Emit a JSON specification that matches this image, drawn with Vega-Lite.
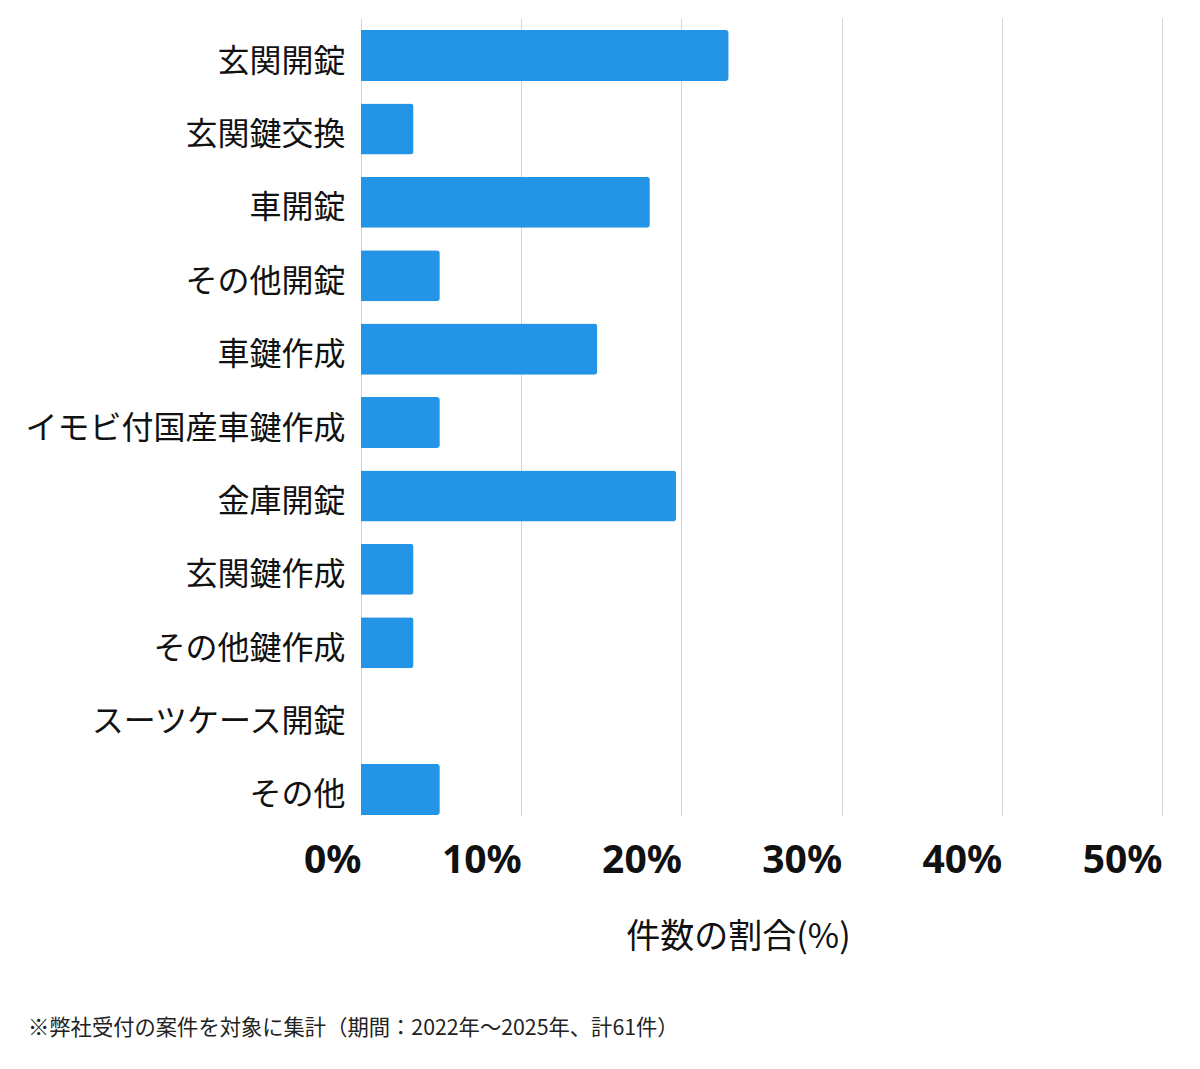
{
  "$schema": "https://vega.github.io/schema/vega-lite/v6.json",
  "autosize": "none",
  "width": 801,
  "height": 797,
  "padding": {"left": 361, "top": 18, "right": 38, "bottom": 254},
  "background": "white",
  "config": {"font": "Noto Sans CJK JP", "view": {"stroke": null}},
  "data": {"values": [
    {"category": "玄関開錠", "percent": 22.95},
    {"category": "玄関鍵交換", "percent": 3.28},
    {"category": "車開錠", "percent": 18.03},
    {"category": "その他開錠", "percent": 4.92},
    {"category": "車鍵作成", "percent": 14.75},
    {"category": "イモビ付国産車鍵作成", "percent": 4.92},
    {"category": "金庫開錠", "percent": 19.67},
    {"category": "玄関鍵作成", "percent": 3.28},
    {"category": "その他鍵作成", "percent": 3.28},
    {"category": "スーツケース開錠", "percent": 0},
    {"category": "その他", "percent": 4.92}
  ]},
  "title": {
    "text": "※弊社受付の案件を対象に集計（期間：2022年～2025年、計61件）",
    "orient": "bottom",
    "anchor": "start",
    "frame": "bounds",
    "fontSize": 21.3,
    "fontWeight": "normal",
    "color": "#222222",
    "offset": 64,
    "dx": 3
  },
  "mark": {"type": "bar", "color": "#2394E6", "cornerRadiusEnd": 3},
  "encoding": {
    "y": {
      "field": "category",
      "type": "nominal",
      "sort": null,
      "scale": {"paddingInner": 0.305, "paddingOuter": 0.082, "align": 1},
      "axis": {
        "title": null,
        "domain": false,
        "ticks": false,
        "labelFontSize": 32,
        "labelFontWeight": "normal",
        "labelColor": "#111111",
        "labelPadding": 16,
        "labelOffset": 6,
        "labelLimit": 400
      }
    },
    "x": {
      "field": "percent",
      "type": "quantitative",
      "scale": {"domain": [0, 50]},
      "axis": {
        "values": [0, 10, 20, 30, 40, 50],
        "labelExpr": "datum.value + '%'",
        "title": "件数の割合(%)",
        "titleFontSize": 34,
        "titleFontWeight": "normal",
        "titleColor": "#111111",
        "titlePadding": 40,
        "titleX": 377,
        "domain": false,
        "ticks": false,
        "grid": true,
        "gridColor": "#d4d4d4",
        "labelFontSize": 39,
        "labelFontWeight": "bold",
        "labelColor": "#111111",
        "labelAlign": "right",
        "labelPadding": 26,
        "labelFlush": false,
        "labelFont": "Noto Sans"
      }
    }
  }
}
